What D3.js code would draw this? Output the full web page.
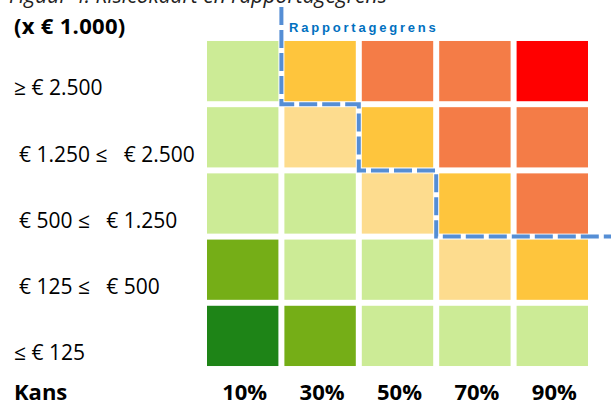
<!DOCTYPE html>
<html>
<head>
<meta charset="utf-8">
<script src="https://cdn.jsdelivr.net/npm/d3@7"></script>
<style>
  body { margin: 0; background: #fff; }
  svg { display: block; font-family: 'Open Sans', Arial, sans-serif; }
</style>
</head>
<body>
<div id="chart"></div>
<script>
const WIDTH = 611, HEIGHT = 401

// kans (columns) and impact (rows, top = highest)
const kansLabels = ["10%", "30%", "50%", "70%", "90%"]
const impactLabels = ["≥ € 2.500", "€ 1.250 ≤   € 2.500", "€ 500 ≤   € 1.250", "€ 125 ≤   € 500", "≤ € 125"]

// risk level per cell, row by row (0 = lowest, 6 = highest)
const risicoRij1 = [2, 4, 5, 5, 6]
const risicoRij2 = [2, 3, 4, 5, 5]
const risicoRij3 = [2, 2, 3, 4, 5]
const risicoRij4 = [1, 2, 2, 3, 4]
const risicoRij5 = [0, 1, 2, 2, 2]

// first column above the reporting limit, per row (rows 1-3)
const grensKolom = [1, 2, 3]

const kleuren = ["#1e8417", "#75ae17", "#cceb96", "#fddc8e", "#fec53d", "#f47c47", "#ff0000"]

var rows = [risicoRij1, risicoRij2, risicoRij3, risicoRij4, risicoRij5]
var cells = []
rows.forEach((r, i) => r.forEach((v, j) => cells.push({ row: i, col: j, level: v })))

var svg = d3.select("#chart").append("svg")
    .attr("width", WIDTH)
    .attr("height", HEIGHT)

var x = d3.scaleBand()
    .domain(d3.range(kansLabels.length))
    .range([204, 591])
    .paddingInner(0.0775)
    .paddingOuter(0.03875)

var y = d3.scaleBand()
    .domain(d3.range(impactLabels.length))
    .range([38, 369])
    .paddingInner(0.09)
    .paddingOuter(0.045)

var color = d3.scaleOrdinal().domain(d3.range(kleuren.length)).range(kleuren)

// title, cut off at the top of the picture
svg.append("text")
    .attr("x", 9)
    .attr("y", 3)
    .style("font-size", "21px")
    .style("font-style", "italic")
    .attr("fill", "#222")
    .text("Figuur 4: Risicokaart en rapportagegrens")

svg.append("text")
    .attr("x", 14)
    .attr("y", 34)
    .style("font-size", "22px")
    .style("font-weight", "bold")
    .style("letter-spacing", "0.3px")
    .text("(x € 1.000)")

svg.append("g").selectAll("rect")
    .data(cells)
    .enter().append("rect")
    .attr("x", d => x(d.col))
    .attr("y", d => y(d.row))
    .attr("width", x.bandwidth())
    .attr("height", y.bandwidth())
    .attr("fill", d => color(d.level))

svg.append("g").selectAll("text")
    .data(impactLabels)
    .enter().append("text")
    .attr("x", d => d.startsWith("€") ? 19 : 14)
    .attr("y", (d, i) => y(i) + y.bandwidth() / 2 + 17)
    .attr("dy", "0.35em")
    .style("font-size", "21px")
    .attr("xml:space", "preserve")
    .text(d => d)

// bottom axis
svg.append("text")
    .attr("x", 14)
    .attr("y", 400)
    .style("font-size", "22px")
    .style("font-weight", "bold")
    .text("Kans")

svg.append("g").selectAll("text")
    .data(kansLabels)
    .enter().append("text")
    .attr("x", (d, i) => x(i) + x.bandwidth() / 2 + 2)
    .attr("y", 400)
    .attr("text-anchor", "middle")
    .style("font-size", "22px")
    .style("font-weight", "bold")
    .text(d => d)

// reporting limit, along the cell gaps
var gap = x.step() - x.bandwidth()
var pts = [[x(grensKolom[0]) - gap / 2, 7]]
grensKolom.forEach((c, i) => {
    var yy = y(i) + y.bandwidth() + (y.step() - y.bandwidth()) / 2
    pts.push([x(c) - gap / 2, yy])
    var next = i + 1 < grensKolom.length ? x(grensKolom[i + 1]) - gap / 2 : WIDTH
    pts.push([next, yy])
})

svg.append("path")
    .attr("d", d3.line()(pts))
    .attr("fill", "none")
    .attr("stroke", "#558ed5")
    .attr("stroke-width", 4)
    .attr("stroke-dasharray", "18 5")

svg.append("text")
    .attr("x", 289)
    .attr("y", 32)
    .style("font-family", "Arial, 'Liberation Sans', sans-serif")
    .style("font-size", "13px")
    .style("font-weight", "bold")
    .style("letter-spacing", "2.8px")
    .attr("fill", "#0070c0")
    .text("Rapportagegrens")
</script>
</body>
</html>
